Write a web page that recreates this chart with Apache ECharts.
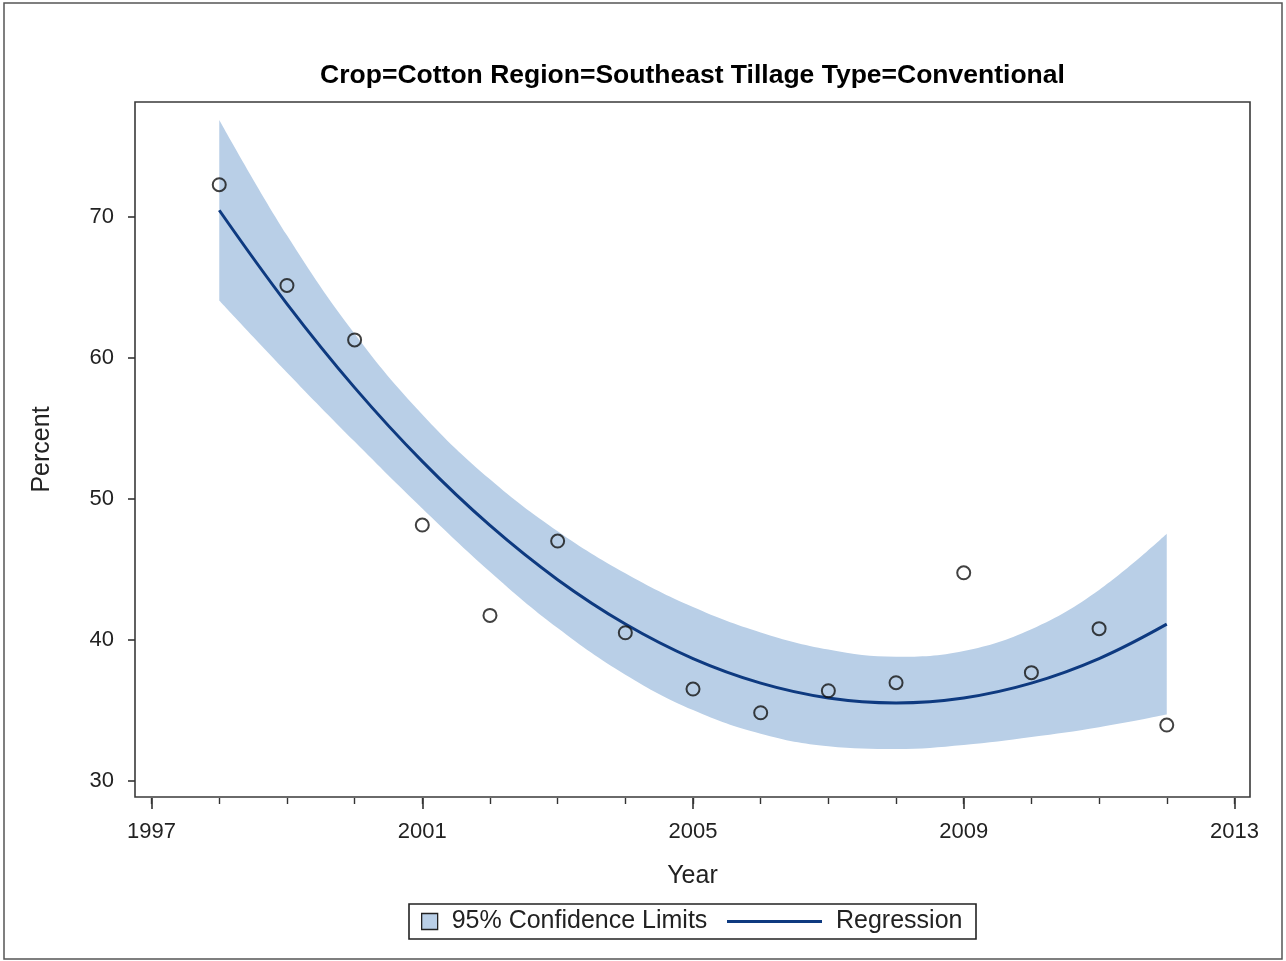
<!DOCTYPE html>
<html>
<head>
<meta charset="utf-8">
<title>Cotton conventional tillage, Southeast</title>
<script src="https://cdn.jsdelivr.net/npm/echarts@6/dist/echarts.min.js"></script>
<style>
  html, body { margin: 0; padding: 0; background: #ffffff; }
  #chart { width: 1286px; height: 961px; }
</style>
</head>
<body>
<div id="chart"></div>
<script>
// Observed share of acres (percent) by year
const years = [1998, 1999, 2000, 2001, 2002, 2003, 2004, 2005, 2006, 2007, 2008, 2009, 2010, 2011, 2012];
const percent = [72.26, 65.12, 61.26, 48.14, 41.74, 47.01, 40.51, 36.52, 34.84, 36.40, 36.97, 44.76, 37.68, 40.80, 33.97];

// Quadratic regression curve and its 95% confidence limits, per year
const regression = [70.45, 63.82, 57.88, 52.65, 48.11, 44.27, 41.13, 38.68, 36.94, 35.89, 35.54, 35.89, 36.94, 38.68, 41.12];
const upperCL = [76.85, 68.68, 61.70, 55.98, 51.38, 47.70, 44.72, 42.33, 40.53, 39.32, 38.81, 39.22, 40.76, 43.54, 47.52];
const lowerCL = [64.05, 58.96, 54.06, 49.32, 44.84, 40.84, 37.54, 35.03, 33.35, 32.46, 32.27, 32.56, 33.12, 33.82, 34.72];

// Axis ticks
const xTickLabels = [1997, 2001, 2005, 2009, 2013];
const xMinorTicks = [1997, 1998, 1999, 2000, 2001, 2002, 2003, 2004, 2005, 2006, 2007, 2008, 2009, 2010, 2011, 2012, 2013];
const yTickLabels = [30, 40, 50, 60, 70];

const FONT = "'Liberation Sans', Arial, Helvetica, sans-serif";
const BAND = '#b9cfe7';
const LINE = '#0e3a80';
const INK = '#222222';

const chart = echarts.init(document.getElementById('chart'), null, { renderer: 'canvas' });

const xRange = { min: 1996.755, max: 2013.23 };
const plain = v => String(v);

// Band series keep the value first so the stack is taken on the y dimension
const bandEncode = { x: 1, y: 0 };

const option = {
  animation: false,
  backgroundColor: '#ffffff',
  textStyle: { fontFamily: FONT },
  title: {
    text: 'Crop=Cotton Region=Southeast Tillage Type=Conventional',
    left: 692.5,
    top: 62,
    padding: 0,
    textAlign: 'center',
    textStyle: { fontFamily: FONT, fontSize: 26.5, fontWeight: 'bold', color: '#000000' }
  },
  grid: {
    left: 135, right: 36, top: 102, bottom: 164,
    show: true, borderColor: '#3a3a3a', borderWidth: 1.6, backgroundColor: 'transparent'
  },
  legend: [
    {
      data: [{ name: '95% Confidence Limits', icon: 'rect',
               itemStyle: { color: BAND, borderColor: INK, borderWidth: 1.3 } }],
      left: 421, top: 909, padding: 0,
      itemWidth: 16, itemHeight: 16,
      selectedMode: false,
      textStyle: { fontFamily: FONT, fontSize: 25, color: INK, padding: [0, 0, 0, 9] }
    },
    {
      data: [{ name: 'Regression', icon: 'rect', itemStyle: { color: LINE, borderWidth: 0 } }],
      left: 727, top: 909, padding: 0,
      itemWidth: 95, itemHeight: 3,
      selectedMode: false,
      textStyle: { fontFamily: FONT, fontSize: 25, color: INK, padding: [0, 0, 0, 9] }
    }
  ],
  xAxis: [
    {
      type: 'value', ...xRange, position: 'bottom', offset: 1,
      axisLine: { show: false },
      splitLine: { show: false },
      axisTick: { show: true, customValues: xTickLabels, length: 11, lineStyle: { color: '#333', width: 1.6 } },
      axisLabel: { customValues: xTickLabels, formatter: plain, fontFamily: FONT, fontSize: 22, color: INK, margin: 23 },
      name: 'Year', nameLocation: 'middle', nameGap: 66,
      nameTextStyle: { fontFamily: FONT, fontSize: 25, color: INK }
    },
    {
      type: 'value', ...xRange, position: 'bottom', offset: 1,
      axisLine: { show: false },
      splitLine: { show: false },
      axisTick: { show: true, customValues: xMinorTicks, length: 6, lineStyle: { color: '#333', width: 1.4 } },
      axisLabel: { show: false }
    }
  ],
  yAxis: {
    type: 'value', min: 28.87, max: 78.12,
    axisLine: { show: false },
    splitLine: { show: false },
    axisTick: { show: true, customValues: yTickLabels, length: 7, lineStyle: { color: '#333', width: 1.6 } },
    axisLabel: { customValues: yTickLabels, formatter: plain, fontFamily: FONT, fontSize: 22, color: INK, margin: 21 },
    name: 'Percent', nameLocation: 'middle', nameGap: 80,
    nameTextStyle: { fontFamily: FONT, fontSize: 25, color: INK }
  },
  series: [
    {
      // lower confidence limit, used as the base of the band
      name: 'lowerLimit', type: 'line', stack: 'cl', smooth: 0.4,
      symbol: 'none', silent: true,
      encode: bandEncode,
      lineStyle: { opacity: 0 },
      data: years.map((y, i) => [lowerCL[i], y])
    },
    {
      name: '95% Confidence Limits', type: 'line', stack: 'cl', smooth: 0.4,
      symbol: 'none', silent: true,
      encode: bandEncode,
      color: BAND,
      lineStyle: { opacity: 0 },
      areaStyle: { color: BAND, opacity: 1 },
      data: years.map((y, i) => [upperCL[i] - lowerCL[i], y])
    },
    {
      name: 'Regression', type: 'line', smooth: 0.4,
      symbol: 'none', silent: true,
      color: LINE,
      lineStyle: { color: LINE, width: 3 },
      data: years.map((y, i) => [y, regression[i]])
    },
    {
      name: 'Percent', type: 'scatter',
      symbol: 'circle', symbolSize: 13,
      itemStyle: { color: 'rgba(0,0,0,0)', borderColor: '#111111', borderWidth: 2 },
      data: years.map((y, i) => [y, percent[i]]),
      z: 5
    }
  ],
  graphic: [
    {
      type: 'rect', silent: true,
      shape: { x: 4, y: 3, width: 1278, height: 956 },
      style: { fill: 'none', stroke: '#555', lineWidth: 1.5 }
    },
    {
      type: 'rect', silent: true,
      shape: { x: 409, y: 904, width: 567, height: 35 },
      style: { fill: 'none', stroke: INK, lineWidth: 1.6 }
    }
  ]
};

chart.setOption(option);
</script>
</body>
</html>
